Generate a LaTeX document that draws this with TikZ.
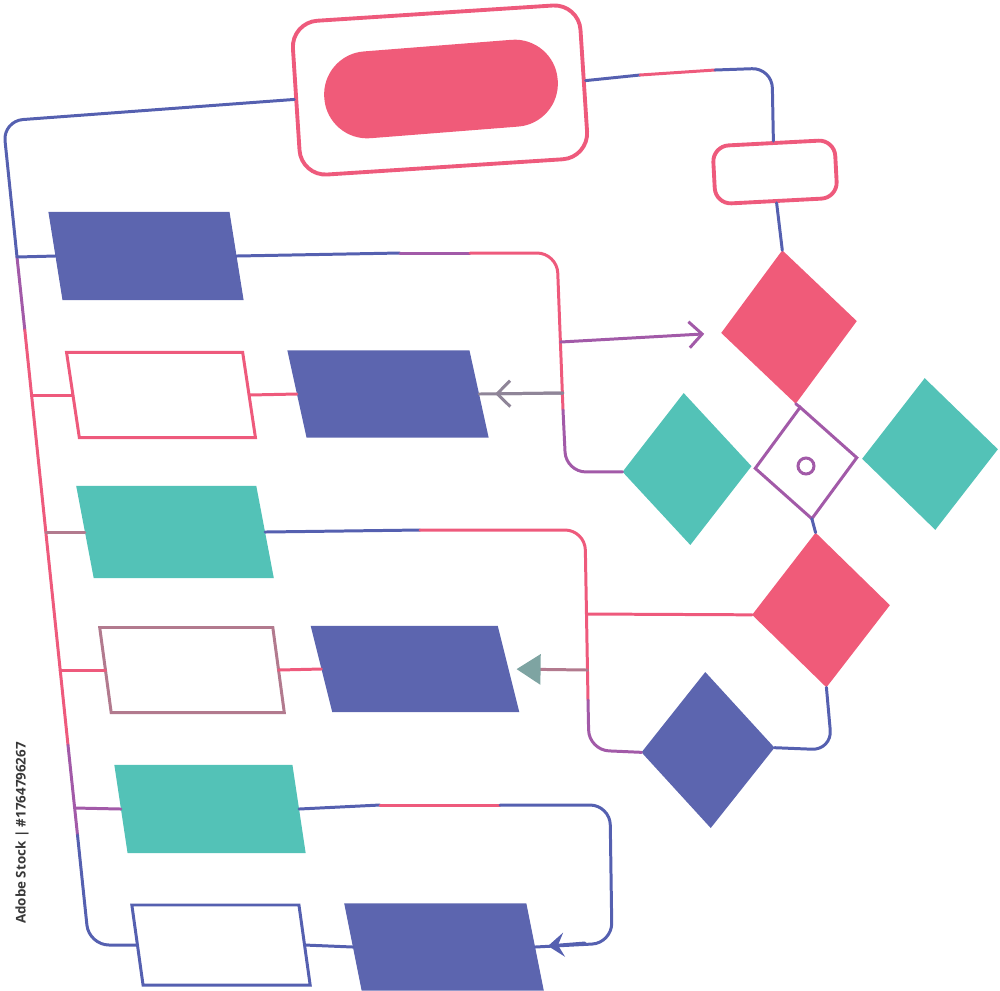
\documentclass[tikz,border=0pt]{standalone}
\usepackage{fontspec}
\setsansfont{Open Sans}
\usetikzlibrary{shapes.geometric,arrows.meta}

\definecolor{rosefill}{HTML}{F05B79}
\definecolor{indigofill}{HTML}{5C65AF}
\definecolor{tealfill}{HTML}{53C2B7}
\definecolor{wireblue}{HTML}{5560B0}
\definecolor{wirepink}{HTML}{EE5A7C}
\definecolor{wirepurple}{HTML}{A25AA8}
\definecolor{wiregray}{HTML}{B27A8E}
\definecolor{tipgray}{HTML}{8F8598}
\definecolor{tiptealgray}{HTML}{7EA4A2}

\tikzset{
  wire/.style={line width=0.85pt,line cap=round,rounded corners=2mm},
  slab/.style={rectangle,inner sep=0pt,outer sep=0pt},
  gem/.style={diamond,inner sep=0pt,outer sep=0pt},
  frame/.style={rectangle,draw=wirepink,line width=1.1pt,inner sep=0pt}
}

\begin{document}
\begin{tikzpicture}[x=0.01cm,y=-0.01cm]
\useasboundingbox (0,0) rectangle (1000,990);

% terminals
\node[frame,rounded corners=2.6mm,minimum width=28.8mm,minimum height=15.4mm,rotate=3.7] (start) at (440,90) {};
\node[rectangle,fill=rosefill,rounded corners=4.3mm,minimum width=23.4mm,minimum height=8.7mm,rotate=4.5] (pill) at (441,89) {};
\node[frame,rounded corners=1.6mm,minimum width=12.2mm,minimum height=5.8mm,rotate=3] (sub) at (775,172) {};

% decisions
\node[gem,fill=rosefill,minimum width=13.6mm,minimum height=15.4mm,rotate=5] (d1) at (789,327) {};
\node[gem,draw=wirepurple,line width=0.85pt,minimum width=10.2mm,minimum height=11.2mm,rotate=6] (hub) at (806,463) {};
\node[circle,draw=wirepurple,line width=0.85pt,minimum size=1.6mm,inner sep=0pt] (dot) at (806,466) {};
\node[gem,fill=tealfill,minimum width=12.9mm,minimum height=15.2mm,rotate=2.5] (dl) at (687,469) {};
\node[gem,fill=tealfill,minimum width=13.6mm,minimum height=15.2mm,rotate=4] (dr) at (930,454) {};
\node[gem,fill=rosefill,minimum width=13.8mm,minimum height=15.5mm,rotate=4] (d2) at (821,610) {};
\node[gem,fill=indigofill,minimum width=13.3mm,minimum height=15.6mm,rotate=2] (d3) at (708,750) {};

% rows
\node[slab,fill=indigofill,minimum width=18.1mm,minimum height=8.8mm,xslant=-0.16] (r1) at (146,256) {};
\node[slab,draw=wirepink,line width=0.85pt,minimum width=17.6mm,minimum height=8.5mm,xslant=-0.15] (r2) at (161,395) {};
\node[slab,fill=indigofill,minimum width=18.2mm,minimum height=8.7mm,xslant=-0.22] (r2b) at (388,394) {};
\node[slab,fill=tealfill,minimum width=18.0mm,minimum height=9.2mm,xslant=-0.19] (r3) at (175,532) {};
\node[slab,draw=wiregray,line width=0.85pt,minimum width=17.3mm,minimum height=8.5mm,xslant=-0.135] (r4) at (192,670) {};
\node[slab,fill=indigofill,minimum width=18.7mm,minimum height=8.6mm,xslant=-0.25] (r4b) at (415,669) {};
\node[slab,fill=tealfill,minimum width=17.8mm,minimum height=8.8mm,xslant=-0.15] (r5) at (210,809) {};
\node[slab,draw=wireblue,line width=0.85pt,minimum width=16.7mm,minimum height=8.0mm,xslant=-0.14] (r6) at (221,945) {};
\node[slab,fill=indigofill,minimum width=18.2mm,minimum height=8.7mm,xslant=-0.2] (r6b) at (444,947) {};

% main spine
\coordinate (m0) at (3,121);
\coordinate (m1) at (17,257);
\coordinate (c1) at (24.8,330);
\coordinate (m2) at (31.6,395);
\coordinate (m3) at (46,532);
\coordinate (m4) at (60,670);
\coordinate (c2) at (68,745);
\coordinate (m5) at (75,808);
\coordinate (c3) at (77.5,835);
\coordinate (m6) at (89,945);
\draw[wire,wireblue] (start.west) -- (m0) -- (m1);
\draw[wire,wirepurple] (m1) -- (c1);
\draw[wire,wirepink] (c1) -- (c2);
\draw[wire,wirepurple] (c2) -- (c3);
\draw[wire,wireblue] (c3) -- (m6) -- (r6.west);

\draw[wire,wireblue] (m1) -- (r1.west);
\draw[wire,wirepink] (m2) -- (r2.west);
\draw[wire,wiregray] (m3) -- (r3.west);
\draw[wire,wirepink] (m4) -- (r4.west);
\draw[wire,wirepurple] (m5) -- (r5.west);

\draw[wire,wirepink] (r2.east) -- (r2b.west);
\draw[wire,wirepink] (r4.east) -- (r4b.west);
\draw[wire,wireblue] (r6.east) -- (r6b.west);

% top right
\coordinate (k1) at (640,75);
\coordinate (k2) at (715,70);
\draw[wire,wireblue] (start.east) -- (k1);
\draw[wire,wirepink] (k1) -- (k2);
\draw[wire,wireblue] (k2) -- (772,68) -- (sub.north);
\draw[wire,wireblue] (sub.south) -- (d1.north);
\draw[wire,wirepurple] (d1.south) -- (hub.north);
\draw[wire,wireblue] (hub.south) -- (d2.north);
\draw[wire,wireblue] (d2.south) -- (832,750) -- (d3.east);

% row 1 loop
\coordinate (e1) at (400,253);
\coordinate (e2) at (470,253);
\coordinate (e3) at (563,410);
\coordinate (a1) at (560.6,342);
\coordinate (a2) at (562.8,393);
\draw[wire,wireblue] (r1.east) -- (e1);
\draw[wire,wirepurple] (e1) -- (e2);
\draw[wire,wirepink] (e2) -- (557,253) -- (e3);
\draw[wire,wirepurple] (e3) -- (566,472) -- (dl.west);
\draw[wire,wirepurple,-{Straight Barb[length=1.3mm,width=2.6mm]},shorten >=1.7mm] (a1) -- (d1.west);
\draw[wire,tipgray] (a2) -- (r2b.east);
\draw[wire,tipgray,-{Straight Barb[length=1.3mm,width=2.6mm]},shorten >=1.6mm] (a2) -- (r2b.east);

% row 3 loop
\coordinate (g1) at (420,530);
\coordinate (g2) at (588,700);
\coordinate (a3) at (586.5,614);
\coordinate (a4) at (587.5,670);
\draw[wire,wireblue] (r3.east) -- (g1);
\draw[wire,wirepink] (g1) -- (585,530) -- (g2);
\draw[wire,wirepurple] (g2) -- (589,750) -- (d3.west);
\draw[wire,wirepink] (a3) -- (d2.west);
\draw[wire,wiregray,-{Triangle[length=2.4mm,width=3mm,color=tiptealgray]},shorten >=0.8mm] (a4) -- (r4b.east);

% row 5 loop
\coordinate (h1) at (380,805);
\coordinate (h2) at (500,805);
\coordinate (a5) at (585,943);
\draw[wire,wireblue] (r5.east) -- (h1);
\draw[wire,wirepink] (h1) -- (h2);
\draw[wire,wireblue] (h2) -- (610,805) -- (612,943) -- (r6b.east);
\draw[wire,wireblue,-{Stealth[length=1.6mm,width=2.4mm,inset=0.6mm]},shorten >=1.3mm] (a5) -- (r6b.east);

\node[rotate=90,text=black!78,font=\sffamily\bfseries\fontsize{3.8}{5}\selectfont] (tag) at (22,833) {Adobe Stock | \#1764796267};
\end{tikzpicture}
\end{document}
